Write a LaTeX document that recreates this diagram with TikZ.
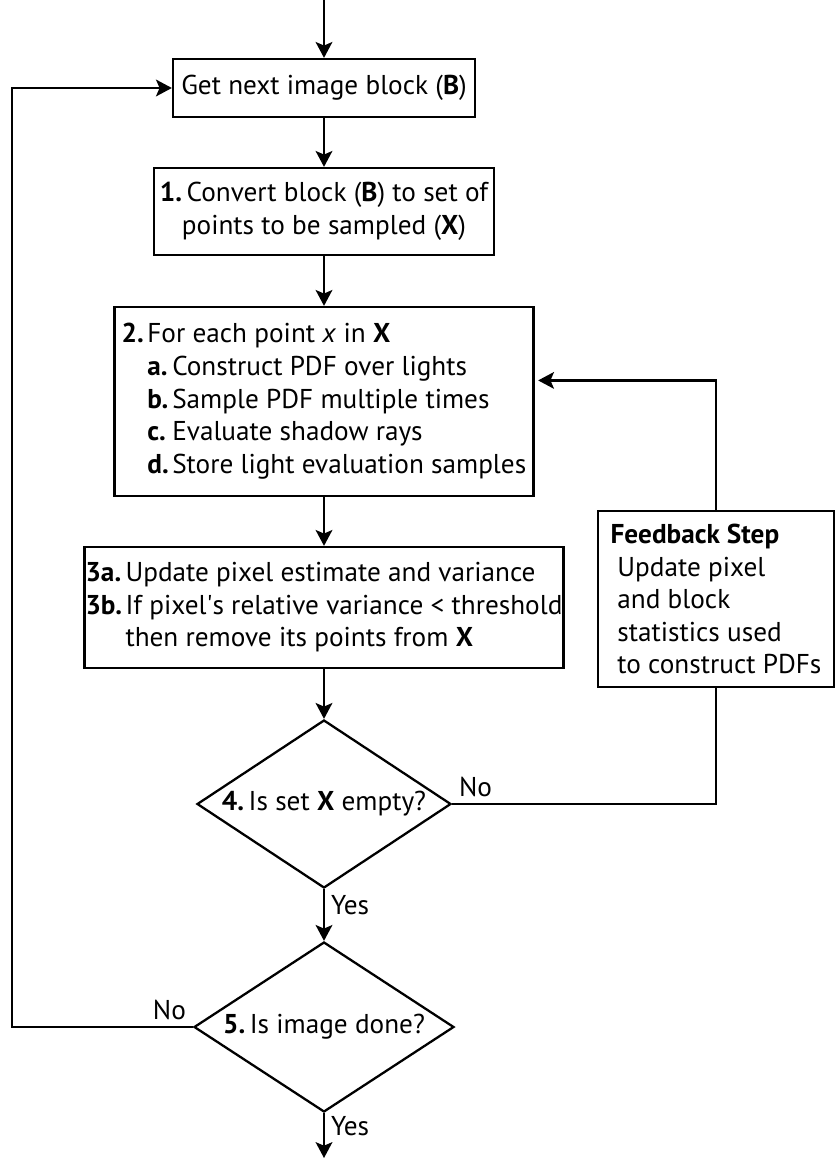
\documentclass[tikz,border=0pt]{standalone}
\usepackage{fontspec}
\setmainfont{PT Sans}
\usetikzlibrary{arrows.meta,positioning,shapes.geometric}

\begin{document}
\begin{tikzpicture}[x=0.02cm, y=-0.02cm,
    font=\fontsize{15.5}{18.5}\selectfont,
    procbox/.style={rectangle, draw, line width=1.3pt, inner sep=0pt, align=center},
    decbox/.style={diamond, draw, line width=1.3pt, inner sep=0pt, aspect=1.5},
    arr/.style={-{Stealth[length=9pt, width=9.5pt, inset=2pt]}, line width=1.3pt},
    link/.style={line width=1.3pt}
  ]
  \useasboundingbox (0,0) rectangle (837,1158);

  % main column
  \node[procbox, minimum width=302*0.02cm, minimum height=58*0.02cm] (b0) at (324,88)
    {Get next image block (\textbf{B})};
  \node[procbox, minimum width=340*0.02cm, minimum height=87*0.02cm] (b1) at (324,211.5)
    {\textbf{1.}\,Convert block (\textbf{B}) to set of\\points to be sampled (\textbf{X})};
  \node[procbox, minimum width=419*0.02cm, minimum height=189*0.02cm] (b2) at (324,401.5)
    {\begin{tabular}{@{}l@{\hspace{2pt}}l@{\hspace{2pt}}l@{}}
      \textbf{2.} & \multicolumn{2}{@{}l@{}}{For each point \textit{x} in \textbf{X}}\\
      & \textbf{a.} & Construct PDF over lights\\
      & \textbf{b.} & Sample PDF multiple times\\
      & \textbf{c.} & Evaluate shadow rays\\
      & \textbf{d.} & Store light evaluation samples
    \end{tabular}};
  \node[procbox, minimum width=479*0.02cm, minimum height=121*0.02cm] (b3) at (324,607.5)
    {\begin{tabular}{@{}l@{\hspace{2pt}}l@{}}
      \textbf{3a.} & Update pixel estimate and variance\\
      \textbf{3b.} & If pixel\textquotesingle s relative variance < threshold\\
      & then remove its points from \textbf{X}
    \end{tabular}};
  \node[decbox, minimum width=254*0.02cm, minimum height=168*0.02cm] (d4) at (324,804)
    {\textbf{4.}\,Is set \textbf{X} empty?};
  \node[decbox, minimum width=260*0.02cm, minimum height=170*0.02cm] (d5) at (324,1027)
    {\textbf{5.}\,Is image done?};

  % feedback
  \node[procbox, align=left, minimum width=236*0.02cm, minimum height=176*0.02cm] (fb) at (716,599)
    {\textbf{Feedback Step}\\
     \hspace*{0.25em}Update pixel\\
     \hspace*{0.25em}and block\\
     \hspace*{0.25em}statistics used\\
     \hspace*{0.25em}to construct PDFs};

  \coordinate (start) at (324,0);
  \coordinate (finish) at (324,1158);
  \coordinate (loop) at (12,1027);

  \draw[arr] (start) -- (b0.north);
  \draw[arr] (b0.south) -- (b1.north);
  \draw[arr] (b1.south) -- (b2.north);
  \draw[arr] (b2.south) -- (b3.north);
  \draw[arr] (b3.south) -- (d4.north);
  \draw[arr] (d4.south) -- node[right, pos=0.3] {Yes} (d5.north);
  \draw[arr] (d5.south) -- node[right, pos=0.3] {Yes} (finish);
  \draw[link] (d4.east) node[above right] {No} -| (fb.south);
  \draw[arr, shorten >=2pt] (fb.north) |- ([yshift=12pt]b2.east);
  \draw[arr] (d5.west) node[above left] {No} -- (loop) |- (b0.west);
\end{tikzpicture}
\end{document}
